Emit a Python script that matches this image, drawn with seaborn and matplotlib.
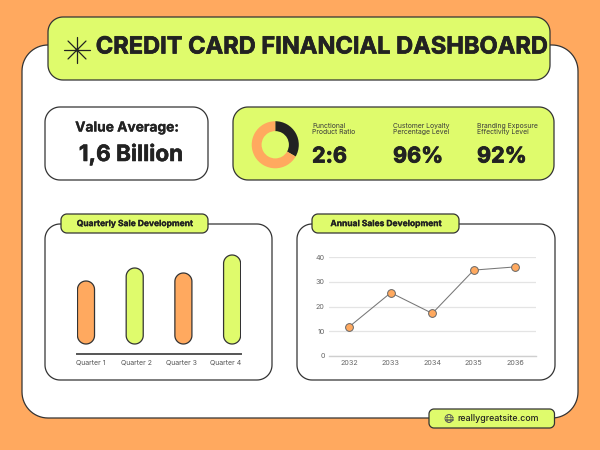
import matplotlib
matplotlib.use("Agg")
import matplotlib.pyplot as plt
import matplotlib.patheffects as pe
from matplotlib.patches import Polygon, Circle, Ellipse
import numpy as np
import seaborn as sns

# Dashboard content
title = "CREDIT CARD FINANCIAL DASHBOARD"
average_label = "Value Average:"
average_value = "1,6 Billion"
kpi_captions = ["Functional\nProduct Ratio", "Customer Loyalty\nPercentage Level", "Branding Exposure\nEffectivity Level"]
kpi_values = ["2:6", "96%", "92%"]
ratio_part = 2
ratio_whole = 6
quarters = ["Quarter 1", "Quarter 2", "Quarter 3", "Quarter 4"]
quarter_sales = [63, 76, 71, 89]
years = [2032, 2033, 2034, 2035, 2036]
annual_sales = [11.8, 25.6, 17.2, 34.8, 36.1]
website = "reallygreatsite.com"

ORANGE = "#FFA95F"
LIME = "#DFFB6C"
INK = "#222222"
EDGE = "#333333"
W, H = 600, 450

sns.set_theme(style="white")
plt.rcParams["font.family"] = ["Inter", "DejaVu Sans"]

fig = plt.figure(figsize=(W / 100, H / 100), dpi=100, facecolor=ORANGE)
canvas = fig.add_axes([0, 0, 1, 1])
canvas.set_xlim(0, W)
canvas.set_ylim(H, 0)
canvas.axis("off")


def rounded_outline(x0, y0, x1, y1, rx, ry):
    """Outline of a rectangle with true elliptical corners."""
    t = np.linspace(0, np.pi / 2, 16)
    corners = [
        (x1 - rx, y1 - ry, 0), (x0 + rx, y1 - ry, np.pi / 2),
        (x0 + rx, y0 + ry, np.pi), (x1 - rx, y0 + ry, 3 * np.pi / 2),
    ]
    pts = [np.column_stack([cx + rx * np.cos(t + a), cy + ry * np.sin(t + a)])
           for cx, cy, a in corners]
    return np.vstack(pts)


def panel(x0, y0, x1, y1, radius, face, lw=0.9, z=2):
    canvas.add_patch(Polygon(rounded_outline(x0, y0, x1, y1, radius, radius), closed=True,
                             fc=face, ec=EDGE, lw=lw, zorder=z))


def axes_at(x0, y0, x1, y1):
    return fig.add_axes([x0 / W, 1 - y1 / H, (x1 - x0) / W, (y1 - y0) / H], facecolor="none")


def label(x, y, s, size, weight="normal", ha="center", color=INK, stroke=0.0, **kw):
    t = canvas.text(x, y, s, fontsize=size, fontweight=weight, ha=ha, va="center",
                    color=color, zorder=6, **kw)
    if stroke:
        t.set_path_effects([pe.withStroke(linewidth=stroke, foreground=color)])


# Background card and header
panel(22, 45, 578, 418, 26, "white", z=1)
panel(48, 17, 550, 80, 15, LIME)
for angle in (0, 45, 90, 135):
    dx, dy = 12.7 * np.cos(np.radians(angle)), 12.7 * np.sin(np.radians(angle))
    canvas.plot([77 - dx, 77 + dx], [50 - dy, 50 + dy], color=INK, lw=0.9, zorder=5)
canvas.add_patch(Circle((77, 50), 1.6, fc=INK, ec="none", zorder=5))
label(321.5, 47.5, title, 17.0, "bold", stroke=0.5)

# Summary boxes
panel(45, 107, 208, 180, 15, "white")
label(127, 127.5, average_label, 9.9, "bold", stroke=0.2)
label(131, 154.5, average_value, 16.2, "bold", stroke=0.4)
panel(233, 107, 554, 180, 15, LIME)
for x, caption, value in zip((312, 393, 477), kpi_captions, kpi_values):
    label(x, 128.8, caption, 4.9, ha="left", color="#3a3a3a", linespacing=1.1)
    label(x, 156.5, value, 15.6, "bold", ha="left", stroke=0.6)

donut = axes_at(251, 120.5, 299.5, 169)
donut.pie([ratio_part, ratio_whole - ratio_part], colors=[INK, ORANGE], startangle=90,
          counterclock=False, radius=1.0, wedgeprops={"width": 0.42, "linewidth": 0})
donut.set_xlim(-1.03, 1.03)
donut.set_ylim(-1.03, 1.03)

# Quarterly bars
panel(45, 224, 272, 380, 15, "white")
panel(61, 214, 208, 233, 6, LIME)
label(135, 223.6, "Quarterly Sale Development", 6.1, "bold", stroke=0.15)

bar_step = 48.7
bar_ax = axes_at(77, 249, 241, 354)
sns.barplot(x=quarters, y=quarter_sales, hue=quarters, palette=[ORANGE, LIME, ORANGE, LIME],
            saturation=1, width=0.35, legend=False, ax=bar_ax)
bar_ax.set_xlim(-9 / bar_step, 155 / bar_step)
bar_ax.set_ylim(-10, 95)
# Swap each bar's rectangle for a capsule with the same geometry
for rect in list(bar_ax.patches):
    x, y, w, h = rect.get_x(), rect.get_y(), rect.get_width(), rect.get_height()
    if h > 0:
        outline = rounded_outline(x, y, x + w, y + h, w / 2, w / 2 * bar_step)
        bar_ax.add_patch(Polygon(outline, closed=True, fc=rect.get_facecolor(), ec=EDGE, lw=0.9))
    rect.remove()
sns.despine(ax=bar_ax, left=True, top=True, right=True)
bar_ax.spines["bottom"].set_color("#555555")
bar_ax.spines["bottom"].set_linewidth(1.4)
bar_ax.set_yticks([])
bar_ax.set_xticks([0.10, 1.03, 1.95, 2.87], quarters)
bar_ax.tick_params(axis="x", length=0, pad=3.8, labelsize=5.0, labelcolor="#555555")

# Annual line
panel(297, 224, 555, 380, 15, "white")
panel(312, 214, 459, 233, 6, LIME)
label(386, 223.6, "Annual Sales Development", 6.1, "bold", stroke=0.15)

line_ax = axes_at(329, 257.3, 536, 355.7)
sns.lineplot(x=years, y=annual_sales, color="#777777", lw=0.75, marker="o", markersize=5.6,
             markerfacecolor=ORANGE, markeredgecolor="#666666", markeredgewidth=0.7, ax=line_ax)
line_ax.set_xlim(2032 - 20.3 / 41.5, 2036 + 20.7 / 41.5)
line_ax.set_ylim(0, 40)
line_ax.set_xticks(years)
line_ax.set_yticks([0, 10, 20, 30, 40])
line_ax.yaxis.grid(True, color="#E4E4E4", lw=0.9)
line_ax.set_axisbelow(True)
sns.despine(ax=line_ax, left=True, top=True, right=True)
line_ax.spines["bottom"].set_color("#CFCFCF")
line_ax.spines["bottom"].set_linewidth(1.0)
line_ax.tick_params(axis="both", length=0, labelsize=5.2, labelcolor="#666666", pad=3.0)
for artist in line_ax.lines:
    artist.set_clip_on(False)

# Footer badge
panel(429, 409, 554.5, 428, 5, LIME)
canvas.add_patch(Circle((449, 418.5), 4, fc="none", ec="#555555", lw=0.6, zorder=5))
canvas.add_patch(Ellipse((449, 418.5), 4, 8, fc="none", ec="#555555", lw=0.5, zorder=5))
for dy in (-1.8, 0, 1.8):
    half = np.sqrt(16 - dy ** 2)
    canvas.plot([449 - half, 449 + half], [418.5 + dy] * 2, color="#555555", lw=0.5, zorder=5)
label(498, 418.5, website, 6.4, "medium")

fig.savefig("out.png", dpi=100, facecolor=ORANGE)
